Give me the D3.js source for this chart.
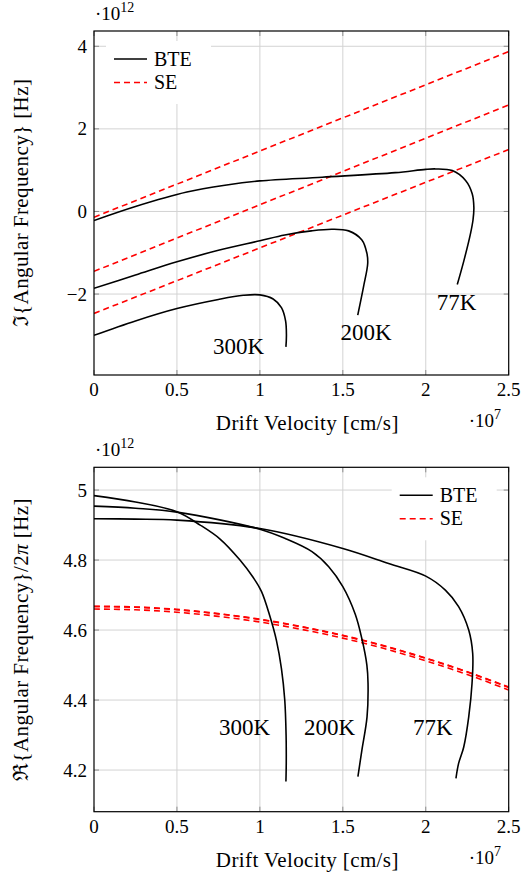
<!DOCTYPE html>
<html>
<head>
<meta charset="utf-8">
<script src="https://cdn.jsdelivr.net/npm/d3@7"></script>
</head>
<body style="margin:0">
<div id="chart"></div>
<script>
// velocity in units of 1e7 cm/s, frequency in units of 1e12 Hz
var velocityTicks = [0, 0.5, 1, 1.5, 2, 2.5];
var imagTicks = [-2, 0, 2, 4];
var realTicks = [4.2, 4.4, 4.6, 4.8, 5];
var temperatures = ["300K", "200K", "77K"];

// Im{omega}, BTE
var bteImag300 = [[0,-3.0],[0.25,-2.65],[0.5,-2.35],[0.75,-2.13],[0.9,-2.03],[1.0,-2.02],[1.08,-2.12],[1.13,-2.33],[1.155,-2.65],[1.16,-3.0],[1.157,-3.28]];
var bteImag200 = [[0,-1.86],[0.25,-1.54],[0.5,-1.22],[0.75,-0.94],[1.0,-0.71],[1.15,-0.57],[1.31,-0.47],[1.435,-0.43],[1.535,-0.47],[1.615,-0.69],[1.645,-1.01],[1.65,-1.26],[1.625,-1.82],[1.59,-2.51]];
var bteImag77 = [[0,-0.22],[0.25,0.12],[0.56,0.47],[0.8,0.64],[1.0,0.74],[1.375,0.83],[1.816,0.94],[2.0,1.02],[2.06,1.03],[2.16,0.99],[2.24,0.75],[2.28,0.43],[2.29,0.1],[2.285,-0.2],[2.27,-0.53],[2.23,-1.19],[2.19,-1.77]];
// Im{omega}, SE (straight lines)
var seImag300 = [[0,-2.47],[2.5,1.50]];
var seImag200 = [[0,-1.45],[2.5,2.58]];
var seImag77 = [[0,-0.14],[2.5,3.87]];

// Re{omega}/2pi, BTE
var bteReal300 = [[0,4.984],[0.25,4.966],[0.5,4.938],[0.64,4.90],[0.76,4.86],[0.88,4.80],[0.96,4.75],[1.01,4.71],[1.06,4.64],[1.10,4.57],[1.13,4.49],[1.15,4.40],[1.158,4.30],[1.159,4.22],[1.157,4.167]];
var bteReal200 = [[0,4.954],[0.25,4.948],[0.5,4.937],[1.0,4.888],[1.15,4.862],[1.314,4.824],[1.415,4.781],[1.5,4.724],[1.575,4.645],[1.615,4.575],[1.645,4.50],[1.652,4.448],[1.646,4.352],[1.615,4.257],[1.591,4.181]];
var bteReal77 = [[0,4.918],[0.25,4.917],[0.5,4.914],[1.0,4.890],[1.5,4.833],[1.776,4.790],[2.0,4.754],[2.118,4.714],[2.198,4.667],[2.259,4.60],[2.283,4.533],[2.279,4.448],[2.259,4.352],[2.229,4.266],[2.198,4.219],[2.182,4.176]];
// Re{omega}/2pi, SE
var seVelocity = [0, 0.25, 0.5, 0.75, 1, 1.25, 1.5, 1.75, 2, 2.25, 2.5];
var seReal300 = [4.668, 4.666, 4.659, 4.647, 4.631, 4.610, 4.585, 4.555, 4.520, 4.481, 4.437];
var seReal200 = [4.667, 4.665, 4.658, 4.646, 4.630, 4.609, 4.584, 4.554, 4.519, 4.480, 4.436];
var seReal77 = [4.660, 4.658, 4.651, 4.639, 4.623, 4.602, 4.577, 4.547, 4.512, 4.473, 4.429];

// where the temperature labels sit, in data units
var imagLabelAt = [[0.871,-3.44],[1.64,-3.115],[2.185,-2.39]];
var realLabelAt = [[0.908,4.30],[1.42,4.30],[2.043,4.30]];

var SERIF = "Liberation Serif";

var svg = d3.select("#chart").append("svg")
    .attr("width", 524)
    .attr("height", 876);

// every text goes straight on the svg with its own font
function addText(x, y, size, anchor) {
    var t = svg.append("text")
        .attr("x", x).attr("y", y)
        .attr("font-size", size)
        .attr("font-family", SERIF)
        .style("font-family", "'" + SERIF + "'", "important");
    if (anchor) t.attr("text-anchor", anchor);
    return t;
}

FrequencyChart = function(_opts) {
    this.opts = _opts;
    this.initVis();
}

FrequencyChart.prototype.initVis = function() {
    var vis = this;
    var o = vis.opts;

    vis.x = d3.scaleLinear().domain([0, 2.5]).range([o.left, o.right]);
    vis.y = d3.scaleLinear().domain(o.yDomain).range([o.bottom, o.top]);

    var g = svg.append("g");

    // grid
    g.append("g").selectAll("line").data(velocityTicks.slice(1, -1)).enter().append("line")
        .attr("x1", d => vis.x(d)).attr("x2", d => vis.x(d))
        .attr("y1", o.top).attr("y2", o.bottom)
        .attr("stroke", "#d3d3d3").attr("stroke-width", 1);
    g.append("g").selectAll("line").data(o.yTicks).enter().append("line")
        .attr("x1", o.left).attr("x2", o.right)
        .attr("y1", d => vis.y(d)).attr("y2", d => vis.y(d))
        .attr("stroke", "#d3d3d3").attr("stroke-width", 1);

    // inward tick marks on all four sides
    var tl = 5, tc = "#8c8c8c";
    var ticks = g.append("g").attr("stroke", tc).attr("stroke-width", 1);
    velocityTicks.forEach(d => {
        ticks.append("line").attr("x1", vis.x(d)).attr("x2", vis.x(d)).attr("y1", o.bottom).attr("y2", o.bottom - tl);
        ticks.append("line").attr("x1", vis.x(d)).attr("x2", vis.x(d)).attr("y1", o.top).attr("y2", o.top + tl);
    });
    o.yTicks.forEach(d => {
        ticks.append("line").attr("y1", vis.y(d)).attr("y2", vis.y(d)).attr("x1", o.left).attr("x2", o.left + tl);
        ticks.append("line").attr("y1", vis.y(d)).attr("y2", vis.y(d)).attr("x1", o.right).attr("x2", o.right - tl);
    });

    // clip for the curves
    var clipId = "clip" + o.id;
    svg.append("clipPath").attr("id", clipId).append("rect")
        .attr("x", o.left).attr("y", o.top)
        .attr("width", o.right - o.left).attr("height", o.bottom - o.top);

    var line = d3.line()
        .x(d => vis.x(d[0])).y(d => vis.y(d[1]))
        .curve(d3.curveCatmullRom.alpha(0.5));

    var plot = g.append("g").attr("clip-path", "url(#" + clipId + ")");
    plot.selectAll("path.se").data(o.se).enter().append("path")
        .attr("class", "se")
        .attr("d", line)
        .attr("fill", "none").attr("stroke", "#ff0000")
        .attr("stroke-width", 1.6).attr("stroke-dasharray", "6,4");
    plot.selectAll("path.bte").data(o.bte).enter().append("path")
        .attr("class", "bte")
        .attr("d", line)
        .attr("fill", "none").attr("stroke", "#000")
        .attr("stroke-width", 1.6);

    // frame
    g.append("rect")
        .attr("x", o.left).attr("y", o.top)
        .attr("width", o.right - o.left).attr("height", o.bottom - o.top)
        .attr("fill", "none").attr("stroke", "#000").attr("stroke-width", 1.2);

    // legend
    var lw = 105, lh = 63;
    var lx = o.legend == "nw" ? o.left + 12 : o.right - 12 - lw;
    var ly = o.top + 10;
    g.append("rect").attr("x", lx).attr("y", ly).attr("width", lw).attr("height", lh).attr("fill", "#fff");
    var entries = [["BTE", "#000", null], ["SE", "#ff0000", "6,4"]];
    entries.forEach((e, i) => {
        var ry = ly + 18 + i * 23.5;
        g.append("line").attr("x1", lx + 8).attr("x2", lx + 41).attr("y1", ry).attr("y2", ry)
            .attr("stroke", e[1]).attr("stroke-width", 1.6)
            .attr("stroke-dasharray", e[2]);
        addText(lx + 48, ry + 6.5, 20).text(e[0]);
    });

    // tick labels
    velocityTicks.forEach(d => addText(vis.x(d), o.bottom + 21, 19, "middle").text(d));
    o.yTicks.forEach(d => addText(o.left - 7, vis.y(d) + 6.5, 19, "end")
        .text(d < 0 ? "\u2212" + Math.abs(d) : d));

    // temperature labels
    o.labelAt.forEach((d, i) => addText(vis.x(d[0]), vis.y(d[1]), 23, "middle").text(temperatures[i]));

    // axis titles and exponents
    addText((o.left + o.right) / 2 + 6, o.bottom + 55, 21, "middle")
        .attr("letter-spacing", 0.4)
        .text("Drift Velocity [cm/s]");

    var yl = addText(0, 0, 21, "middle")
        .attr("transform", "translate(28," + ((o.top + o.bottom) / 2) + ") rotate(-90)")
        .attr("letter-spacing", 0.4);
    o.yLabel.forEach(p => {
        var ts = yl.append("tspan").attr("font-family", SERIF).text(p[0]);
        if (p[1]) ts.attr("font-style", "italic");
    });

    var e12 = addText(o.left + 1, o.top - 11, 19);
    e12.append("tspan").attr("font-family", SERIF).text("\u00b710");
    e12.append("tspan").attr("font-family", SERIF).attr("font-size", 14).attr("dy", -8).text("12");

    var e7 = addText(o.right - 40, o.bottom + 52, 19);
    e7.append("tspan").attr("font-family", SERIF).text("\u00b710");
    e7.append("tspan").attr("font-family", SERIF).attr("font-size", 14).attr("dy", -8).text("7");
}

var topChart = new FrequencyChart({
    id: "imag",
    left: 94, right: 508.7, top: 31, bottom: 375,
    yDomain: [-3.96, 4.37],
    yTicks: imagTicks,
    yLabel: [["\u2111{Angular Frequency} [Hz]", false]],
    bte: [bteImag300, bteImag200, bteImag77],
    se: [seImag300, seImag200, seImag77],
    labelAt: imagLabelAt,
    legend: "nw"
});

var seRealPairs = [seReal300, seReal200, seReal77].map(s => s.map((v, i) => [seVelocity[i], v]));

var bottomChart = new FrequencyChart({
    id: "real",
    left: 94, right: 508.7, top: 467.3, bottom: 811.7,
    yDomain: [4.081, 5.065],
    yTicks: realTicks,
    yLabel: [["\u211c{Angular Frequency}/2", false], ["\u03c0", true], [" [Hz]", false]],
    bte: [bteReal300, bteReal200, bteReal77],
    se: seRealPairs,
    labelAt: realLabelAt,
    legend: "ne"
});
</script>
</body>
</html>
